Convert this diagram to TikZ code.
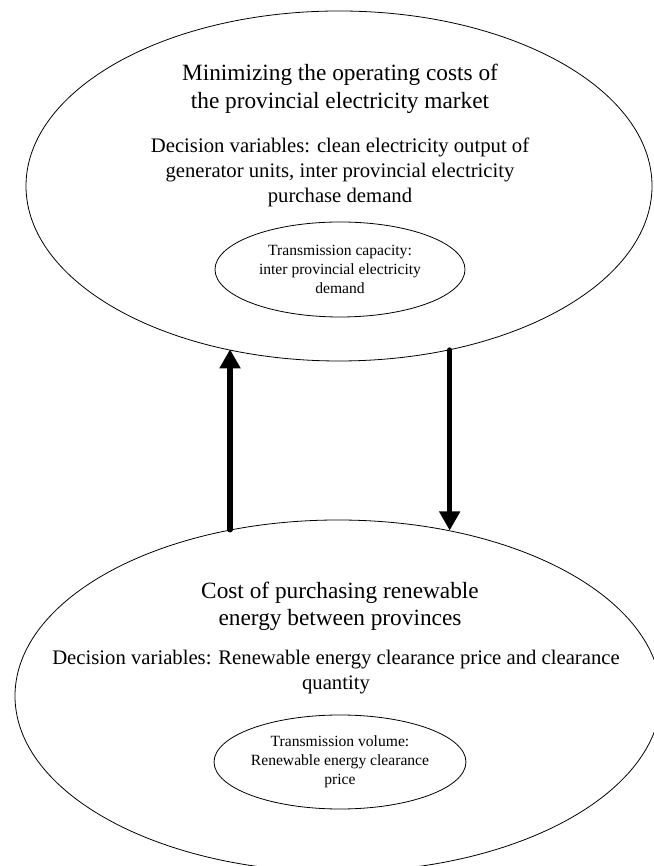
\documentclass[tikz,border=0pt]{standalone}
\usepackage{fontspec}
\setmainfont{Liberation Serif}
\usetikzlibrary{arrows.meta,shapes.geometric}

\begin{document}
\begin{tikzpicture}[line cap=round,line join=round,>={Triangle[width=20pt,length=19pt]},x=1pt,y=1pt,
        bigell/.style={draw,ellipse,line width=0.8pt,inner sep=0pt},
        smallell/.style={draw,ellipse,line width=0.8pt,minimum width=250pt,minimum height=95pt,inner sep=0pt,align=center,font=\fontsize{15.6}{19}\selectfont},
        titletext/.style={align=center,font=\fontsize{23.3}{27.5}\selectfont},
        vartext/.style={align=center,font=\fontsize{20.7}{25}\selectfont}]
        \useasboundingbox (0,0) rectangle (653,866);

        % upper level: provincial market
        \node[bigell,minimum width=626pt,minimum height=350pt] (upper) at (339,680) {};
        \node[titletext] (uppertitle) at (340,777) {Minimizing the operating costs of\\the provincial electricity market};
        \node[vartext] (uppervars) at (340,694) {Decision variables: clean electricity output of\\generator units, inter provincial electricity\\purchase demand};
        \node[smallell] (uppercap) at (340,596.5) {Transmission capacity:\\inter provincial electricity\\demand};

        % lower level: inter provincial purchase
        \node[bigell,minimum width=646pt,minimum height=352pt] (lower) at (338,170) {};
        \node[titletext] (lowertitle) at (340,259.5) {Cost of purchasing renewable\\energy between provinces};
        \node[vartext] (lowervars) at (336,194) {Decision variables: Renewable energy clearance price and clearance\\quantity};
        \node[smallell,minimum height=94pt] (lowervol) at (340,104) {Transmission volume:\\Renewable energy clearance\\price};

        \draw [line width=5.5pt,->] (lower.123.6) -- (lower.123.6 |- upper.235.8);
        \draw [line width=5.5pt,->] (upper.304.2) -- (upper.304.2 |- lower.56.3);
\end{tikzpicture}
\end{document}
